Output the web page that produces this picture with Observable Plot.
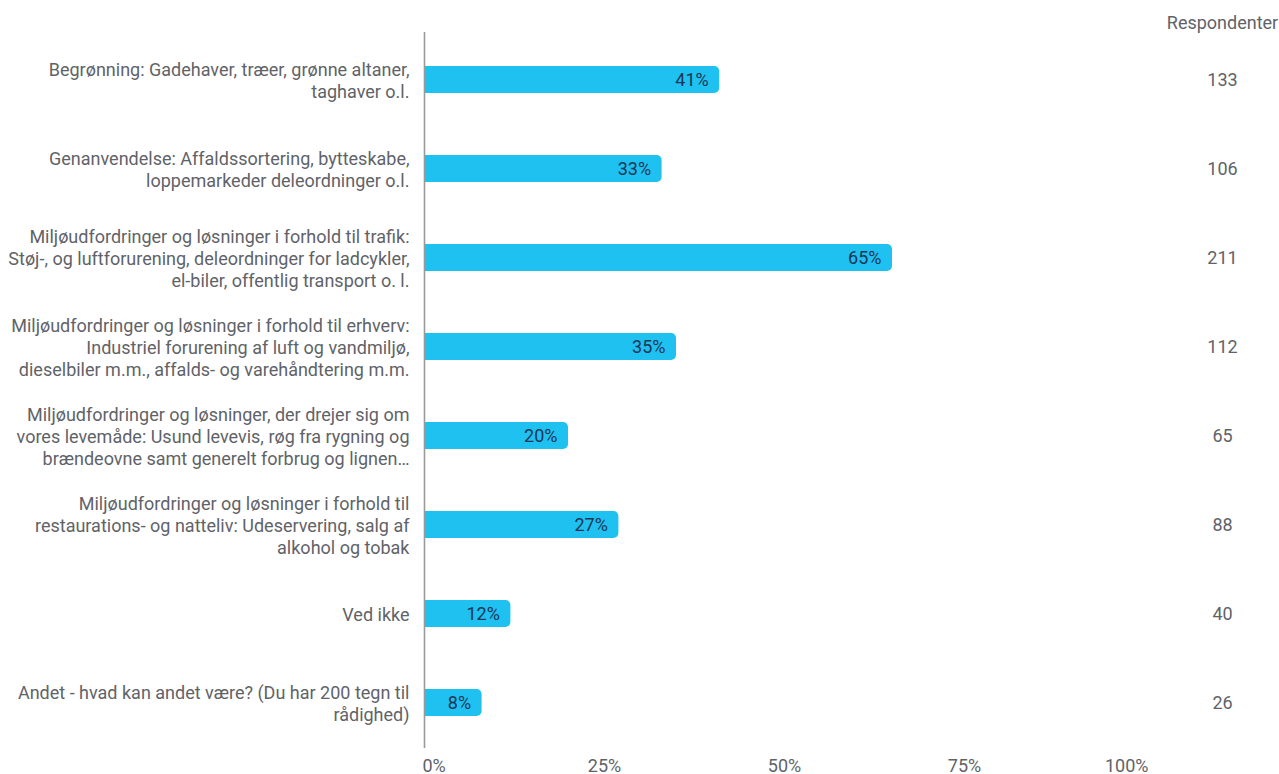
<!DOCTYPE html>
<html>
<head>
<meta charset="utf-8">
<script src="https://cdn.jsdelivr.net/npm/d3@7"></script>
<script src="https://cdn.jsdelivr.net/npm/@observablehq/plot@0.6"></script>
<style>
  html, body { margin: 0; padding: 0; background: #fff; }
  #chart svg { display: block; }
</style>
</head>
<body>
<div id="chart"></div>
<script>
const categories = [
  "Begrønning: Gadehaver, træer, grønne altaner,\ntaghaver o.l.",
  "Genanvendelse: Affaldssortering, bytteskabe,\nloppemarkeder deleordninger o.l.",
  "Miljøudfordringer og løsninger i forhold til trafik:\nStøj-, og luftforurening, deleordninger for ladcykler,\nel-biler, offentlig transport o. l.",
  "Miljøudfordringer og løsninger i forhold til erhverv:\nIndustriel forurening af luft og vandmiljø,\ndieselbiler m.m., affalds- og varehåndtering m.m.",
  "Miljøudfordringer og løsninger, der drejer sig om\nvores levemåde: Usund levevis, røg fra rygning og\nbrændeovne samt generelt forbrug og lignen…",
  "Miljøudfordringer og løsninger i forhold til\nrestaurations- og natteliv: Udeservering, salg af\nalkohol og tobak",
  "Ved ikke",
  "Andet - hvad kan andet være? (Du har 200 tegn til\nrådighed)"
];
const shares = [0.41, 0.33, 0.65, 0.35, 0.20, 0.27, 0.12, 0.08];
const respondents = [133, 106, 211, 112, 65, 88, 40, 26];
const xTicks = [0, 0.25, 0.5, 0.75, 1];
const xTickLabels = ["0%", "25%", "50%", "75%", "100%"];
const countHeader = "Respondenter";

const data = categories.map((c, i) => ({cat: c, v: shares[i], n: respondents[i]}));
const ticks = xTicks.map((t, i) => ({t, label: xTickLabels[i]}));

const font = "Roboto, 'Noto Sans', sans-serif";
const gray = "#5f6368";
const barColor = "#1fc1f0";
const fs = 18;

const chart = Plot.plot({
  width: 1279,
  height: 774,
  marginLeft: 424,
  marginRight: 135,
  marginTop: 32,
  marginBottom: 24,
  style: {fontFamily: font, background: "#fff"},
  x: {domain: [0, 1], axis: null},
  y: {domain: categories, axis: null, padding: 0},
  marks: [
    Plot.ruleX(xTicks.slice(1), {stroke: "#c8c8c8", strokeWidth: 1.2, y1: null, insetBottom: 2}),
    Plot.barX(data, {y: "cat", x1: 0, x2: "v", fill: barColor, rx: 5, insetTop: 31, insetBottom: 31}),
    Plot.barX(data, {y: "cat", x1: 0, x2: d => d.v / 2, fill: barColor, insetTop: 31, insetBottom: 31}),
    Plot.ruleX([0], {stroke: "#9a9a9a", strokeWidth: 1.6, insetBottom: 2}),
    Plot.text(data, {y: "cat", x: "v", text: d => Math.round(d.v * 100) + "%", textAnchor: "end", dx: -11, fill: "#1b3656", fontSize: fs}),
    Plot.text(data, {y: "cat", x: 0, text: "cat", textAnchor: "end", dx: -15, fill: gray, fontSize: fs, lineHeight: 1.22}),
    Plot.text(data, {y: "cat", x: 1, text: d => String(d.n), dx: 78, fill: gray, fontSize: fs}),
    Plot.text([countHeader], {x: 1, frameAnchor: "top", dx: 78, dy: -16, text: d => d, fill: gray, fontSize: fs}),
    Plot.text(ticks.slice(0, 1), {x: "t", text: "label", frameAnchor: "bottom", dy: 21, textAnchor: "start", dx: -2, fill: gray, fontSize: fs}),
    Plot.text(ticks.slice(1, -1), {x: "t", text: "label", frameAnchor: "bottom", dy: 21, fill: gray, fontSize: fs}),
    Plot.text(ticks.slice(-1), {x: "t", text: "label", frameAnchor: "bottom", dy: 21, textAnchor: "end", dx: 4, fill: gray, fontSize: fs})
  ]
});
document.getElementById("chart").appendChild(chart);
</script>
</body>
</html>
